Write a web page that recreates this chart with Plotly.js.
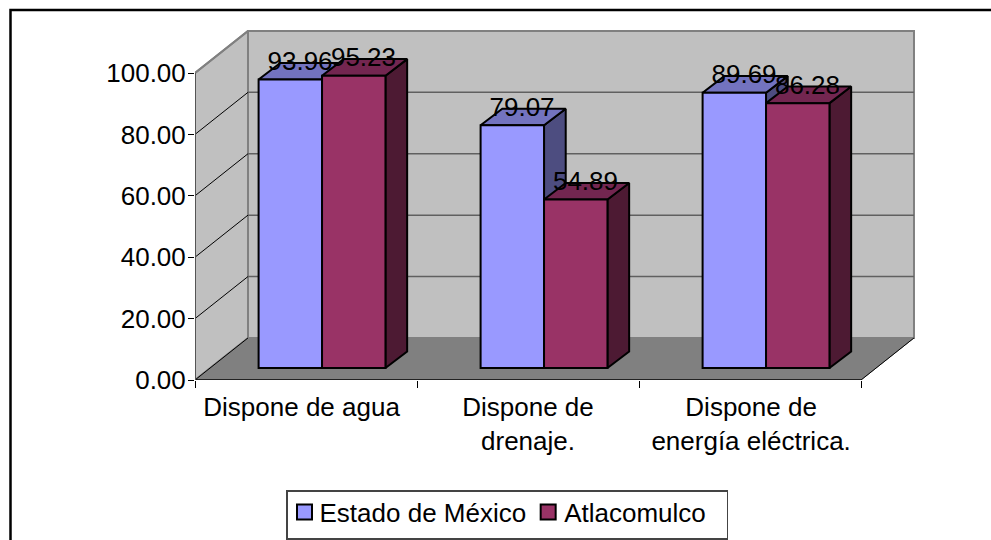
<!DOCTYPE html>
<html>
<head>
<meta charset="utf-8">
<script src="https://cdn.plot.ly/plotly-3.0.1.min.js"></script>
<style>html,body{margin:0;padding:0;background:#fff;overflow:hidden}#chart{width:991px;height:540px}</style>
</head>
<body>
<div id="chart"></div>
<script>
// Household services: share of dwellings with each service
const categories = ['Dispone de agua', 'Dispone de<br>drenaje.', 'Dispone de<br>energía eléctrica.'];
const categoryLabelPos = [0.48, 1.5, 2.505];
const seriesNames = ['Estado de México', 'Atlacomulco'];
const estadoValues = [93.96, 79.07, 89.69];
const atlacomulcoValues = [95.23, 54.89, 86.28];
const valueTicks = [0, 20, 40, 60, 80, 100];

const faceColors = ['#9999FF', '#993366'];
const topColors = ['#7373BF', '#732650'];
const sideColors = ['#4D4D80', '#4D1A33'];

// Oblique projection, in axis units: how far the back of the box is shifted
const boxDepthX = 0.2387, boxDepthY = 13.7;
// Position and depth of the columns inside the box
const barShiftX = 0.0722, barShiftY = 3.9, barDepthX = 0.0977, barDepthY = 5.4;
const barWidth = 1 / 3.5;
const labelDrop = 1.7;
const nCat = categories.length;

const FONT = 'Liberation Sans, Arial, sans-serif';
const FONT_SIZE = 26;
const traces = [];
const allValues = [estadoValues, atlacomulcoValues];

function poly(xs, ys, fill, z) {
  traces.push({
    type: 'scatter', mode: 'lines', x: xs.concat(xs[0]), y: ys.concat(ys[0]),
    fill: 'toself', fillcolor: fill, line: {color: '#000', width: 2},
    hoverinfo: 'skip', showlegend: false, cliponaxis: false, zorder: z
  });
}

// Columns are stacked back to front, left to right, within each category
allValues.forEach((vals, s) => {
  const xLeft = vals.map((_, i) => i + 0.5 + barShiftX + (s - 1) * barWidth);
  vals.forEach((v, i) => {
    const x0 = xLeft[i], x1 = x0 + barWidth, top = v + barShiftY;
    poly([x1, x1 + barDepthX, x1 + barDepthX, x1],
         [barShiftY, barShiftY + barDepthY, top + barDepthY, top], sideColors[s], 2 * s + 1);
    poly([x0, x1, x1 + barDepthX, x0 + barDepthX],
         [top, top, top + barDepthY, top + barDepthY], topColors[s], 2 * s + 1);
  });
  traces.push({
    type: 'bar', name: seriesNames[s],
    x: xLeft.map(x => x + barWidth / 2), y: vals,
    base: vals.map(() => barShiftY), width: barWidth,
    marker: {color: faceColors[s], line: {color: '#000', width: 2}},
    hoverinfo: 'name+y', zorder: 2 * s + 2, cliponaxis: false
  });
});

// Value labels sit over the middle of each column's top face
allValues.forEach((vals, s) => {
  traces.push({
    type: 'scatter', mode: 'text', showlegend: false, hoverinfo: 'skip', cliponaxis: false,
    x: vals.map((_, i) => i + 0.5 + barShiftX + (s - 0.5) * barWidth + barDepthX * 0.45),
    y: vals.map(v => v + barShiftY + barDepthY / 2 - labelDrop),
    text: vals.map(v => v.toFixed(2)),
    textposition: 'top center',
    textfont: {family: FONT, size: FONT_SIZE, color: '#000'},
    zorder: 10
  });
});

// Box: walls, floor, gridlines
const wallTop = valueTicks[valueTicks.length - 1];
const shapes = [];
function shapePath(xs, ys, fill, color, width) {
  shapes.push({
    type: 'path', layer: 'below', xref: 'x', yref: 'y',
    path: xs.map((x, i) => (i ? 'L' : 'M') + x + ',' + ys[i]).join(' ') + ' Z',
    fillcolor: fill, line: {color: color, width: width}
  });
}
function shapeLine(x0, y0, x1, y1, color, width) {
  shapes.push({type: 'line', layer: 'below', xref: 'x', yref: 'y', x0, y0, x1, y1, line: {color, width}});
}
shapePath([boxDepthX, nCat + boxDepthX, nCat + boxDepthX, boxDepthX],
          [boxDepthY, boxDepthY, wallTop + boxDepthY, wallTop + boxDepthY], '#C0C0C0', '#808080', 2);
shapePath([0, boxDepthX, boxDepthX, 0],
          [0, boxDepthY, wallTop + boxDepthY, wallTop], '#C0C0C0', '#808080', 2);
shapePath([0, nCat, nCat + boxDepthX, boxDepthX], [0, 0, boxDepthY, boxDepthY], '#808080', '#808080', 1);
valueTicks.forEach(v => {
  if (v > 0 && v < wallTop) {
    shapeLine(boxDepthX, v + boxDepthY, nCat + boxDepthX, v + boxDepthY, '#606060', 1.5);
  }
  if (v > 0) shapeLine(0, v, boxDepthX, v + boxDepthY, v < wallTop ? '#000' : '#808080', v < wallTop ? 1 : 2);
});
shapeLine(0, 0, nCat, 0, '#222', 2);
shapeLine(nCat, 0, nCat + boxDepthX, boxDepthY, '#000', 1);
shapeLine(0, 0, boxDepthX, boxDepthY, '#000', 1);
shapeLine(0, 0, 0, wallTop, '#555', 2);

// Outer chart frame: only its top and left edges fall on the page
shapes.push({
  type: 'rect', layer: 'above', xref: 'paper', yref: 'paper',
  x0: (10.5 - 195) / 726, x1: (1100 - 195) / 726,
  y0: -1, y1: (380 - 10) / 350,
  line: {color: '#000', width: 2.5}, fillcolor: 'rgba(0,0,0,0)'
});

const layout = {
  width: 991, height: 540,
  margin: {l: 195, r: 70, t: 30, b: 160, pad: 0},
  paper_bgcolor: '#fff', plot_bgcolor: 'rgba(0,0,0,0)',
  font: {family: FONT, size: FONT_SIZE, color: '#000'},
  barmode: 'overlay',
  showlegend: true,
  legend: {
    orientation: 'h', xref: 'container', yref: 'container',
    x: 286 / 991, y: 1 - 490 / 540, xanchor: 'left', yanchor: 'top',
    bgcolor: '#fff', bordercolor: '#444', borderwidth: 1.5,
    font: {family: FONT, size: FONT_SIZE, color: '#000'},
    traceorder: 'normal', itemclick: false, itemdoubleclick: false
  },
  xaxis: {
    range: [0, 726 / 222], showgrid: false, zeroline: false, showline: false,
    tickmode: 'array', tickvals: categoryLabelPos, ticktext: categories,
    ticks: '', tickangle: 0, ticklabelstandoff: 9,
    tickfont: {family: FONT, size: FONT_SIZE, color: '#000'},
    minor: {tickmode: 'array', tickvals: categories.map((_, i) => i).concat(nCat),
            ticks: 'outside', ticklen: 7, tickwidth: 1, tickcolor: '#000', showgrid: false}
  },
  yaxis: {
    range: [0, 350 / 3.07], showgrid: false, zeroline: false, showline: false,
    tickmode: 'array', tickvals: valueTicks, tickformat: '.2f',
    ticks: 'outside', ticklen: 6, tickwidth: 1, tickcolor: '#000', ticklabelstandoff: -3,
    tickfont: {family: FONT, size: FONT_SIZE, color: '#000'}
  },
  shapes: shapes
};

// Tighter legend keys: larger swatches drawn right next to their names
function tightenLegend() {
  const entries = document.querySelectorAll('#chart .legend .traces');
  const swatchShift = [-3, -11], textShift = [-8, -15], textLift = -3;
  entries.forEach((g, i) => {
    const swatch = g.querySelector('.legendpoints path');
    if (swatch) {
      swatch.setAttribute('d', 'M7.5,7.5H-7.5V-7.5H7.5Z');
      swatch.closest('.legendpoints').setAttribute('transform', 'translate(' + swatchShift[i] + ',' + textLift + ')');
    }
    const label = g.querySelector('.legendtext');
    if (label) {
      label.setAttribute('x', +label.getAttribute('x') + textShift[i]);
      label.setAttribute('y', +label.getAttribute('y') + textLift);
    }
  });
  const bg = document.querySelector('#chart .legend .bg');
  if (bg) bg.setAttribute('height', 48);
}

Plotly.newPlot('chart', traces, layout, {displayModeBar: false, staticPlot: true}).then(tightenLegend);
</script>
</body>
</html>
